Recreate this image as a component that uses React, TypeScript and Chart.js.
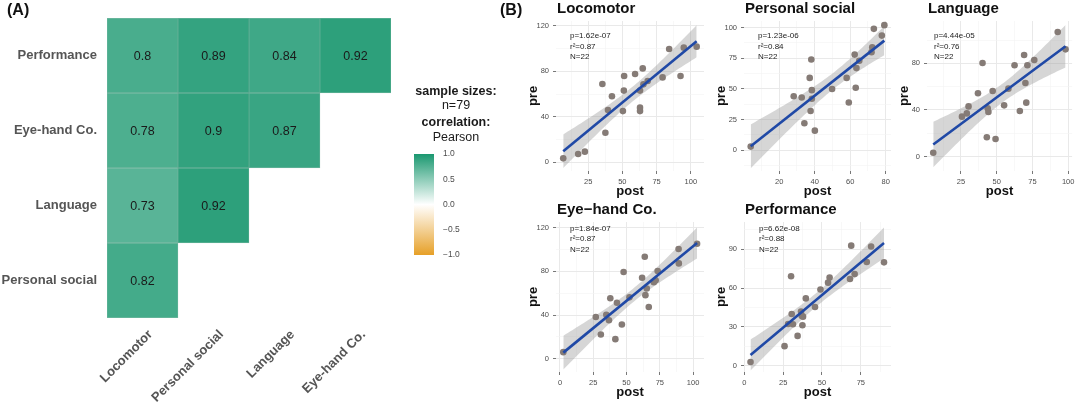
import React, { useEffect, useRef } from "react";
import { Chart, registerables } from "chart.js";

Chart.register(...registerables);

const FONT = "'Liberation Sans', Arial, Helvetica, sans-serif";
Chart.defaults.font.family = FONT;

// ---------- (A) correlation heat map ----------
const corrColumns = ["Locomotor", "Personal social", "Language", "Eye-hand Co."];
// rows from bottom (y = 1) to top (y = 4)
const corrRowNames = ["Personal social", "Language", "Eye-hand Co.", "Performance"];
const corrPersonalSocial = [0.82];
const corrLanguage = [0.73, 0.92];
const corrEyeHand = [0.78, 0.9, 0.87];
const corrPerformance = [0.8, 0.89, 0.84, 0.92];
const legendTicks = [-1, -0.5, 0, 0.5, 1];

// ---------- (B) pre / post scatter panels ----------
const locomotorPost = [6.8, 17.7, 22.6, 35.4, 37.6, 39.5, 42.4, 50.4, 51.1, 51.3, 59.3, 62.9, 62.9, 62.9, 64.9, 65.4, 68.5, 79.4, 84.2, 92.5, 94.9, 104.3];
const locomotorPre = [3.5, 7.3, 9.4, 68.8, 26.0, 46.0, 58.0, 45.0, 63.0, 75.8, 77.6, 63.0, 48.0, 45.0, 82.5, 68.5, 71.4, 74.6, 99.5, 75.8, 100.7, 101.6];
const locomotorXTicks = [25, 50, 75, 100];
const locomotorYTicks = [0, 40, 80, 120];
const locomotorStats = ["p=1.62e-07", "r\u00b2=0.87", "N=22"];

const socialPost = [4.0, 28.2, 32.7, 34.2, 37.2, 38.1, 37.7, 38.4, 38.4, 40.1, 49.8, 58.0, 59.2, 62.5, 63.1, 63.5, 65.1, 72.0, 72.4, 73.3, 77.8, 79.2];
const socialPre = [3.0, 44.0, 43.0, 22.0, 59.0, 74.0, 32.0, 49.0, 42.0, 16.0, 50.0, 59.0, 39.0, 78.0, 51.0, 67.0, 73.0, 80.0, 84.0, 99.0, 93.5, 102.0];
const socialXTicks = [20, 40, 60, 80];
const socialYTicks = [0, 25, 50, 75, 100];
const socialStats = ["p=1.23e-06", "r\u00b2=0.84", "N=22"];

const languagePost = [5.6, 25.7, 29.1, 30.3, 36.9, 40.1, 43.1, 43.7, 44.2, 47.2, 49.2, 55.2, 58.2, 62.5, 66.2, 69.2, 70.1, 70.7, 71.5, 76.3, 92.7, 98.2];
const languagePre = [3.4, 34.3, 37.1, 43.1, 54.3, 80.3, 16.6, 41.4, 38.3, 56.3, 15.1, 44.0, 58.3, 78.3, 39.1, 87.1, 63.1, 46.3, 78.3, 82.9, 106.9, 92.0];
const languageXTicks = [25, 50, 75, 100];
const languageYTicks = [0, 40, 80];
const languageStats = ["p=4.44e-05", "r\u00b2=0.76", "N=22"];

const eyeHandPost = [2.5, 26.9, 30.7, 34.8, 37.8, 36.8, 41.6, 42.8, 46.5, 47.8, 52.2, 61.7, 63.7, 64.2, 65.2, 66.7, 70.5, 71.9, 73.4, 89.1, 89.3, 103.0];
const eyeHandPre = [6.0, 38.2, 22.2, 40.3, 55.3, 35.2, 17.9, 51.3, 31.3, 79.4, 56.2, 74.2, 93.4, 58.2, 64.3, 47.3, 70.0, 71.8, 80.3, 100.5, 87.3, 105.3];
const eyeHandXTicks = [0, 25, 50, 75, 100];
const eyeHandYTicks = [0, 40, 80, 120];
const eyeHandStats = ["p=1.84e-07", "r\u00b2=0.87", "N=22"];

const performancePost = [4.0, 25.9, 28.2, 30.1, 30.5, 31.3, 34.3, 36.5, 37.4, 37.8, 37.0, 39.6, 45.5, 49.0, 53.9, 54.9, 68.0, 68.8, 71.0, 78.8, 81.6, 89.9];
const performancePre = [2.8, 15.1, 32.2, 69.2, 40.0, 32.0, 23.0, 41.8, 31.2, 37.9, 38.5, 52.0, 45.4, 58.9, 64.2, 68.2, 67.0, 92.8, 70.9, 80.2, 92.1, 79.9];
const performanceXTicks = [0, 25, 50, 75];
const performanceYTicks = [0, 30, 60, 90];
const performanceStats = ["p=6.62e-08", "r\u00b2=0.88", "N=22"];

// ---------- helpers ----------
const HIGH = [27, 152, 112];
const LOW = [230, 160, 40];
function corrColor(v: number): string {
  const c = v >= 0 ? HIGH : LOW;
  const t = Math.min(1, Math.abs(v));
  const m = c.map((k) => Math.round(255 + (k - 255) * t));
  return `rgb(${m[0]},${m[1]},${m[2]})`;
}
const fmtMinus = (v: number) => v.toFixed(1).replace("-", "\u2212");

type Tick = { value: number; minor?: boolean };
function axisTicks(majors: number[], min: number, max: number): Tick[] {
  const step = majors[1] - majors[0];
  const out: Tick[] = [];
  const last = majors[majors.length - 1];
  for (let v = majors[0] - step; v <= last + step + 1e-9; v += step / 2) {
    if (v < min - 1e-9 || v > max + 1e-9) continue;
    const isMajor = majors.some((m) => Math.abs(m - v) < 1e-9);
    out.push({ value: v, minor: !isMajor });
  }
  return out;
}

function regression(xs: number[], ys: number[]) {
  const n = xs.length;
  const mx = xs.reduce((a, b) => a + b, 0) / n;
  const my = ys.reduce((a, b) => a + b, 0) / n;
  let sxx = 0, sxy = 0;
  for (let i = 0; i < n; i++) {
    sxx += (xs[i] - mx) ** 2;
    sxy += (xs[i] - mx) * (ys[i] - my);
  }
  const b = sxy / sxx;
  const a = my - b * mx;
  let sse = 0;
  for (let i = 0; i < n; i++) sse += (ys[i] - a - b * xs[i]) ** 2;
  const s = Math.sqrt(sse / (n - 2));
  return { a, b, s, mx, sxx, n };
}
const T_975 = 2.086; // t quantile, df = 20

const cellTextPlugin = {
  id: "cellText",
  afterDatasetsDraw(chart: any) {
    const { ctx } = chart;
    ctx.save();
    ctx.font = `12.5px ${FONT}`;
    ctx.fillStyle = "#1a1a1a";
    ctx.textAlign = "center";
    ctx.textBaseline = "middle";
    chart.data.datasets.forEach((ds: any, di: number) => {
      const meta = chart.getDatasetMeta(di);
      meta.data.forEach((el: any, i: number) => {
        const p = el.getProps(["x", "y", "base"], true);
        ctx.fillText(String(ds.data[i].v), p.x, (p.y + p.base) / 2 + 1);
      });
    });
    ctx.restore();
  },
};

const panelTextPlugin = {
  id: "panelText",
  afterDraw(chart: any, _args: any, opts: any) {
    const { ctx, chartArea: a } = chart;
    ctx.save();
    ctx.textAlign = "left";
    ctx.textBaseline = "middle";
    ctx.fillStyle = "#111";
    ctx.font = `bold 15px ${FONT}`;
    ctx.fillText(opts.title, a.left + 1, a.top - 12);
    ctx.font = `8px ${FONT}`;
    ctx.fillStyle = "#222";
    (opts.lines as string[]).forEach((t, i) => ctx.fillText(t, a.left + opts.dx, a.top + opts.dy + i * 10.6));
    ctx.restore();
  },
};

// ---------- heat map ----------
function Heatmap() {
  const ref = useRef<HTMLCanvasElement>(null);
  useEffect(() => {
    const rows = [corrPersonalSocial, corrLanguage, corrEyeHand, corrPerformance];
    const datasets = rows.map((vals, r) => ({
      label: corrRowNames[r],
      data: vals.map((v, c) => ({ x: corrColumns[c], y: [r + 0.5, r + 1.5], v })),
      backgroundColor: (ctx: any) => corrColor(ctx.raw ? ctx.raw.v : 0),
      borderColor: "rgba(20,80,60,0.35)",
      borderWidth: 0.5,
      borderSkipped: false,
      barPercentage: 1,
      categoryPercentage: 1,
      grouped: false,
    }));
    const labelFont = { family: FONT, size: 13, weight: "bold" as const };
    const chart = new Chart(ref.current!, {
      type: "bar",
      data: { labels: corrColumns, datasets: datasets as any },
      options: {
        responsive: false,
        animation: false,
        events: [],
        layout: { padding: { top: 18, right: 9, left: 0, bottom: 0 } },
        plugins: { legend: { display: false }, tooltip: { enabled: false } },
        scales: {
          x: {
            type: "category",
            offset: true,
            grid: { display: false, drawTicks: false },
            border: { display: false },
            ticks: {
              minRotation: 45,
              maxRotation: 45,
              autoSkip: false,
              padding: 9,
              labelOffset: 8,
              color: "#555",
              font: labelFont,
            },
            afterFit: (s: any) => {
              s.height = 92;
            },
          },
          y: {
            type: "linear",
            min: 0.5,
            max: 4.5,
            grid: { display: false, drawTicks: false },
            border: { display: false },
            afterBuildTicks: (s: any) => {
              s.ticks = corrRowNames.map((_, i) => ({ value: i + 1 }));
            },
            ticks: {
              callback: (v: any) => corrRowNames[Math.round(Number(v)) - 1] ?? "",
              padding: 10,
              color: "#555",
              font: labelFont,
            },
            afterFit: (s: any) => {
              s.width = 107;
            },
          },
        },
      },
      plugins: [cellTextPlugin],
    });
    return () => chart.destroy();
  }, []);
  return <canvas ref={ref} width={400} height={410} style={{ position: "absolute", left: 0, top: 0 }} />;
}

// ---------- colour bar ----------
function ColorBar() {
  const ref = useRef<HTMLCanvasElement>(null);
  useEffect(() => {
    const chart = new Chart(ref.current!, {
      type: "bar",
      data: {
        labels: ["r"],
        datasets: [
          {
            data: [[-1, 1]] as any,
            backgroundColor: (ctx: any) => {
              const a = ctx.chart.chartArea;
              if (!a) return corrColor(1);
              const g = ctx.chart.ctx.createLinearGradient(0, a.bottom, 0, a.top);
              legendTicks.forEach((v) => g.addColorStop((v + 1) / 2, corrColor(v)));
              return g;
            },
            borderWidth: 0,
            barPercentage: 1,
            categoryPercentage: 1,
          },
        ],
      },
      options: {
        responsive: false,
        animation: false,
        events: [],
        layout: { padding: { left: 14, top: 13, bottom: 15, right: 0 } },
        plugins: { legend: { display: false }, tooltip: { enabled: false } },
        scales: {
          x: { display: false },
          y: {
            position: "right",
            min: -1,
            max: 1,
            grid: { display: false, drawTicks: false },
            border: { display: false },
            afterBuildTicks: (s: any) => {
              s.ticks = legendTicks.map((v) => ({ value: v }));
            },
            ticks: {
              padding: 9,
              color: "#4d4d4d",
              font: { family: FONT, size: 8.5 },
              callback: (v: any) => fmtMinus(Number(v)),
            },
            afterFit: (s: any) => {
              s.width = 46;
            },
          },
        },
      },
    });
    return () => chart.destroy();
  }, []);
  return <canvas ref={ref} width={80} height={130} style={{ position: "absolute", left: 400, top: 140 }} />;
}

// ---------- scatter panel ----------
type PanelCfg = {
  title: string;
  post: number[];
  pre: number[];
  xTicks: number[];
  yTicks: number[];
  stats: string[];
  left: number;
  right: number;
  top: number;
  bottom: number;
  canvasTop: number;
  xMin: number;
  xMax: number;
  yMin: number;
  yMax: number;
  dx: number;
  dy: number;
};

const AXW = 30;
const AXH = 28;
const PADR = 3;

function ScatterPanel({ cfg }: { cfg: PanelCfg }) {
  const ref = useRef<HTMLCanvasElement>(null);
  const canvasLeft = cfg.left - AXW;
  const width = cfg.right - cfg.left + AXW + PADR;
  const height = cfg.bottom - cfg.canvasTop + AXH;
  useEffect(() => {
    const fit = regression(cfg.post, cfg.pre);
    const x0 = Math.min(...cfg.post);
    const x1 = Math.max(...cfg.post);
    const steps = 60;
    const upper: { x: number; y: number }[] = [];
    const lower: { x: number; y: number }[] = [];
    for (let i = 0; i <= steps; i++) {
      const x = x0 + ((x1 - x0) * i) / steps;
      const yh = fit.a + fit.b * x;
      const se = fit.s * Math.sqrt(1 / fit.n + (x - fit.mx) ** 2 / fit.sxx);
      upper.push({ x, y: yh + T_975 * se });
      lower.push({ x, y: yh - T_975 * se });
    }
    const pts = cfg.post.map((x, i) => ({ x, y: cfg.pre[i] }));
    const line = [
      { x: x0, y: fit.a + fit.b * x0 },
      { x: x1, y: fit.a + fit.b * x1 },
    ];
    const gridOpts = {
      color: (c: any) => (c.tick && c.tick.minor ? "#f3f3f3" : "#e9e9e9"),
      lineWidth: (c: any) => (c.tick && c.tick.minor ? 0.6 : 1),
      tickColor: (c: any) => (c.tick && c.tick.minor ? "rgba(0,0,0,0)" : "#555"),
      tickLength: 3,
      tickWidth: 0.8,
    };
    const tickFont = { family: FONT, size: 7.5 };
    const titleFont = { family: FONT, size: 13, weight: "bold" as const };
    const labelCb = (_v: any, i: number, ticks: any[]) =>
      ticks[i] && ticks[i].minor ? "" : String(ticks[i].value);
    const chart = new Chart(ref.current!, {
      type: "scatter",
      data: {
        datasets: [
          {
            type: "line",
            data: line,
            borderColor: "#2049a6",
            borderWidth: 2.6,
            pointRadius: 0,
            fill: false,
          } as any,
          {
            type: "scatter",
            data: pts,
            backgroundColor: "#857b76",
            borderWidth: 0,
            pointRadius: 3.3,
          },
          {
            type: "line",
            data: upper,
            borderColor: "rgba(0,0,0,0)",
            borderWidth: 0,
            pointRadius: 0,
            backgroundColor: "rgba(153,153,153,0.4)",
            fill: "+1",
          } as any,
          {
            type: "line",
            data: lower,
            borderColor: "rgba(0,0,0,0)",
            borderWidth: 0,
            pointRadius: 0,
            fill: false,
          } as any,
        ],
      },
      options: {
        responsive: false,
        animation: false,
        events: [],
        layout: { padding: { top: cfg.top - cfg.canvasTop, right: PADR, left: 0, bottom: 0 } },
        plugins: {
          legend: { display: false },
          tooltip: { enabled: false },
          panelText: { title: cfg.title, lines: cfg.stats, dx: cfg.dx, dy: cfg.dy },
        } as any,
        scales: {
          x: {
            type: "linear",
            min: cfg.xMin,
            max: cfg.xMax,
            grid: gridOpts as any,
            border: { display: false },
            afterBuildTicks: (s: any) => {
              s.ticks = axisTicks(cfg.xTicks, cfg.xMin, cfg.xMax);
            },
            ticks: { autoSkip: false, maxRotation: 0, padding: 3.5, color: "#4d4d4d", font: tickFont, callback: labelCb as any },
            title: { display: true, text: "post", color: "#111", font: titleFont, padding: 0 },
            afterFit: (s: any) => {
              s.height = AXH;
            },
          },
          y: {
            type: "linear",
            min: cfg.yMin,
            max: cfg.yMax,
            grid: gridOpts as any,
            border: { display: false },
            afterBuildTicks: (s: any) => {
              s.ticks = axisTicks(cfg.yTicks, cfg.yMin, cfg.yMax);
            },
            ticks: { autoSkip: false, padding: 4, color: "#4d4d4d", font: tickFont, callback: labelCb as any },
            title: { display: true, text: "pre", color: "#111", font: titleFont, padding: 0 },
            afterFit: (s: any) => {
              s.width = AXW;
            },
          },
        },
      },
      plugins: [panelTextPlugin],
    });
    return () => chart.destroy();
  }, [cfg]);
  return (
    <canvas
      ref={ref}
      width={width}
      height={height}
      style={{ position: "absolute", left: canvasLeft, top: cfg.canvasTop }}
    />
  );
}

const panels: PanelCfg[] = [
  {
    title: "Locomotor", post: locomotorPost, pre: locomotorPre, xTicks: locomotorXTicks, yTicks: locomotorYTicks, stats: locomotorStats,
    left: 556, right: 705, top: 21, bottom: 171, canvasTop: 0, xMin: 1.52, xMax: 109.65, yMin: -7.6, yMax: 124.1, dx: 14, dy: 15,
  },
  {
    title: "Personal social", post: socialPost, pre: socialPre, xTicks: socialXTicks, yTicks: socialYTicks, stats: socialStats,
    left: 744, right: 892, top: 21, bottom: 171, canvasTop: 0, xMin: 0.22, xMax: 82.95, yMin: -16.9, yMax: 105.4, dx: 14, dy: 15,
  },
  {
    title: "Language", post: languagePost, pre: languagePre, xTicks: languageXTicks, yTicks: languageYTicks, stats: languageStats,
    left: 927, right: 1075, top: 21, bottom: 171, canvasTop: 0, xMin: 1.23, xMax: 102.8, yMin: -12.3, yMax: 116.3, dx: 7, dy: 15,
  },
  {
    title: "Eye\u2212hand Co.", post: eyeHandPost, pre: eyeHandPre, xTicks: eyeHandXTicks, yTicks: eyeHandYTicks, stats: eyeHandStats,
    left: 556, right: 705, top: 222, bottom: 372, canvasTop: 200, xMin: -2.99, xMax: 108.2, yMin: -12.2, yMax: 125.2, dx: 14, dy: 6.3,
  },
  {
    title: "Performance", post: performancePost, pre: performancePre, xTicks: performanceXTicks, yTicks: performanceYTicks, stats: performanceStats,
    left: 744, right: 892, top: 222, bottom: 372, canvasTop: 200, xMin: -0.19, xMax: 94.4, yMin: -4.9, yMax: 111.1, dx: 15, dy: 6.3,
  },
];

function TextLine({ text, cy, bold }: { text: string; cy: number; bold?: boolean }) {
  return (
    <div
      style={{
        position: "absolute",
        left: 400,
        width: 112,
        top: cy - 8,
        height: 16,
        lineHeight: "16px",
        textAlign: "center",
        fontFamily: FONT,
        fontSize: 12.5,
        fontWeight: bold ? "bold" : "normal",
        color: "#1a1a1a",
        whiteSpace: "nowrap",
      }}
    >
      {text}
    </div>
  );
}

export default function App() {
  return (
    <div
      style={{
        position: "absolute",
        left: 0,
        top: 0,
        width: 1080,
        height: 410,
        background: "#fff",
        overflow: "hidden",
        fontFamily: FONT,
      }}
    >
      <Heatmap />
      <ColorBar />
      {panels.map((p) => (
        <ScatterPanel key={p.title} cfg={p} />
      ))}
      <div style={{ position: "absolute", left: 7, top: 2, fontSize: 16, lineHeight: "16px", fontWeight: "bold", color: "#111" }}>(A)</div>
      <div style={{ position: "absolute", left: 500, top: 2, fontSize: 16, lineHeight: "16px", fontWeight: "bold", color: "#111" }}>(B)</div>
      <TextLine text="sample sizes:" cy={91} bold />
      <TextLine text="n=79" cy={105} />
      <TextLine text="correlation:" cy={122} bold />
      <TextLine text="Pearson" cy={137} />
    </div>
  );
}
